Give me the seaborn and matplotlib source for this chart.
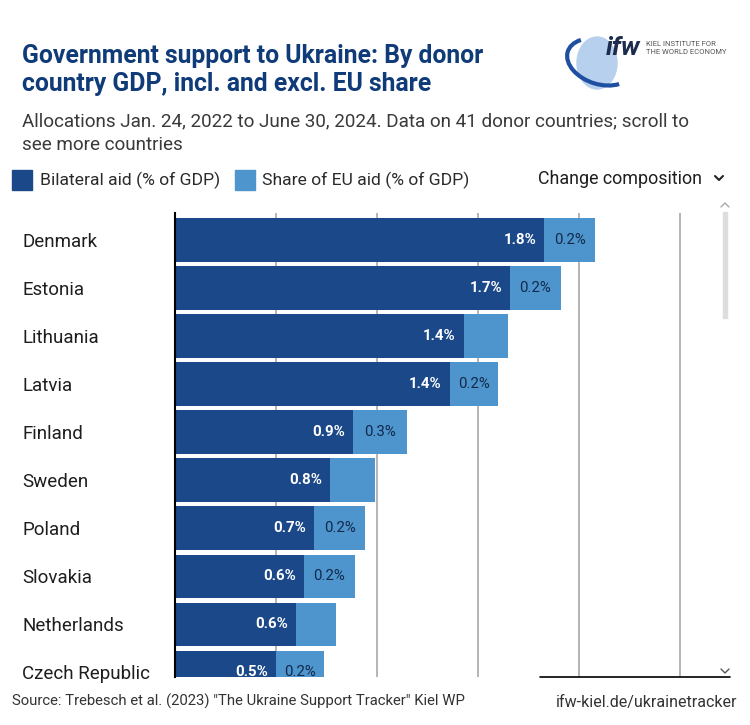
import numpy as np
import pandas as pd
import matplotlib
matplotlib.use("Agg")
import matplotlib.pyplot as plt
from matplotlib.patches import Rectangle, Ellipse, Arc
from matplotlib.lines import Line2D
import seaborn as sns

# Values (% of donor GDP)
countries = ["Denmark", "Estonia", "Lithuania", "Latvia", "Finland",
             "Sweden", "Poland", "Slovakia", "Netherlands", "Czech Republic"]
bilateral = [1.83, 1.66, 1.43, 1.36, 0.88, 0.77, 0.69, 0.64, 0.60, 0.50]
eu_share = [0.25, 0.25, 0.22, 0.24, 0.27, 0.22, 0.25, 0.25, 0.20, 0.24]
grid_ticks = [0.5, 1.0, 1.5, 2.0, 2.5]

df = pd.DataFrame({"country": countries, "bilateral": bilateral, "eu": eu_share})
df["total"] = df.bilateral + df.eu

DARK = "#1b4889"
LIGHT = "#4f95cd"
NAVY = "#0f3b78"

sns.set_theme(style="white")
plt.rcParams["font.family"] = ["Roboto", "DejaVu Sans"]

W, H = 750, 725
fig = plt.figure(figsize=(W / 100, H / 100), dpi=100)

def fx(px):
    return px / W

def fy(py):
    return 1 - py / H

ax = fig.add_axes([fx(175), fy(677), fx(720) - fx(175), fy(213) - fy(677)])

# stacked bars: total (light) underneath, bilateral (dark) on top
sns.barplot(data=df, x="total", y="country", orient="h", color=LIGHT,
            width=0.9, saturation=1, linewidth=0, ax=ax, zorder=2)
sns.barplot(data=df, x="bilateral", y="country", orient="h", color=DARK,
            width=0.9, saturation=1, linewidth=0, ax=ax, zorder=3)

ax.set_xlim(0, 2.70)
ax.set_ylim(9.1, -0.56)
for g in grid_ticks:
    ax.axvline(g, color="#a0a0a0", lw=1.1, zorder=1)
ax.set_xticks([])
ax.set_xlabel("")
ax.set_ylabel("")
for s in ["top", "right", "bottom"]:
    ax.spines[s].set_visible(False)
ax.spines["left"].set_color("black")
ax.spines["left"].set_linewidth(1.5)
ax.spines["left"].set_zorder(5)

ax.tick_params(axis="y", length=0, pad=110, labelsize=13.5, labelcolor="#1e1e1e")
for lab in ax.get_yticklabels():
    lab.set_horizontalalignment("left")

# value labels
for i, row in df.iterrows():
    ax.text(row.bilateral - 0.04, i, f"{row.bilateral:.1f}%", ha="right",
            va="center", color="white", fontsize=10.8, fontweight="bold", zorder=6)
    if row.eu >= 0.23:
        ax.text(row.bilateral + row.eu / 2, i, f"{row.eu:.1f}%", ha="center",
                va="center", color="#10294d", fontsize=10.8, zorder=6)

# title and subtitle
fig.text(fx(22), fy(70), "Government support to Ukraine: By donor\ncountry GDP, incl. and excl. EU share",
         ha="left", va="center", fontsize=17.8, fontweight="bold", color=NAVY,
         linespacing=1.25)
fig.text(fx(22), fy(133), "Allocations Jan. 24, 2022 to June 30, 2024. Data on 41 donor countries; scroll to\nsee more countries",
         ha="left", va="center", fontsize=13.6, color="#3a3a3a", linespacing=1.45)

# legend
fig.add_artist(Rectangle((fx(12), fy(190)), fx(20), fx(20) * W / H, transform=fig.transFigure, color=DARK))
fig.text(fx(40), fy(180), "Bilateral aid (% of GDP)", ha="left", va="center", fontsize=12.6,
         color="#2a2a2a")
fig.add_artist(Rectangle((fx(235), fy(190)), fx(20), fx(20) * W / H, transform=fig.transFigure, color=LIGHT))
fig.text(fx(262), fy(180), "Share of EU aid (% of GDP)", ha="left", va="center", fontsize=12.6,
         color="#2a2a2a")
fig.text(fx(538), fy(179), "Change composition", ha="left", va="center", fontsize=12.9,
         color="#1e1e1e")
fig.add_artist(Line2D([fx(715), fx(719), fx(723)], [fy(176), fy(180), fy(176)],
                      transform=fig.transFigure, color="#222222", lw=1.5))

# scrollbar
fig.add_artist(Rectangle((fx(723), fy(318)), fx(4), fy(212) - fy(318),
                         transform=fig.transFigure, color="#dddddd"))
fig.add_artist(Line2D([fx(721), fx(725), fx(729)], [fy(207), fy(203), fy(207)],
                      transform=fig.transFigure, color="#aaaaaa", lw=1))
fig.add_artist(Line2D([fx(721), fx(725), fx(729)], [fy(669), fy(673), fy(669)],
                      transform=fig.transFigure, color="#555555", lw=1))
fig.add_artist(Line2D([fx(540), fx(730)], [fy(677), fy(677)],
                      transform=fig.transFigure, color="black", lw=1.2))

# logo
fig.add_artist(Ellipse((fx(597), fy(63)), fx(40), fy(0) - fy(52), transform=fig.transFigure,
                       color="#b7d0ee"))
fig.add_artist(Arc((fx(600), fy(62)), fx(68), fy(0) - fy(44), angle=-20, theta1=150, theta2=330,
                   transform=fig.transFigure, color="#1f4fa0", lw=3))
fig.text(fx(606), fy(48), "ifw", ha="left", va="center", fontsize=19, fontweight="bold",
         fontstyle="italic", color="#1d2c4c")
fig.text(fx(646), fy(44), "KIEL INSTITUTE FOR", ha="left", va="center", fontsize=5.5, color="#555555")
fig.text(fx(646), fy(52), "THE WORLD ECONOMY", ha="left", va="center", fontsize=5.5, color="#555555")

# footer
fig.text(fx(12), fy(701), 'Source: Trebesch et al. (2023) "The Ukraine Support Tracker" Kiel WP',
         ha="left", va="center", fontsize=10.7, color="#333333")
fig.text(fx(737), fy(703), "ifw-kiel.de/ukrainetracker", ha="right", va="center",
         fontsize=11.5, color="#333333")

fig.savefig("out.png", dpi=100)
